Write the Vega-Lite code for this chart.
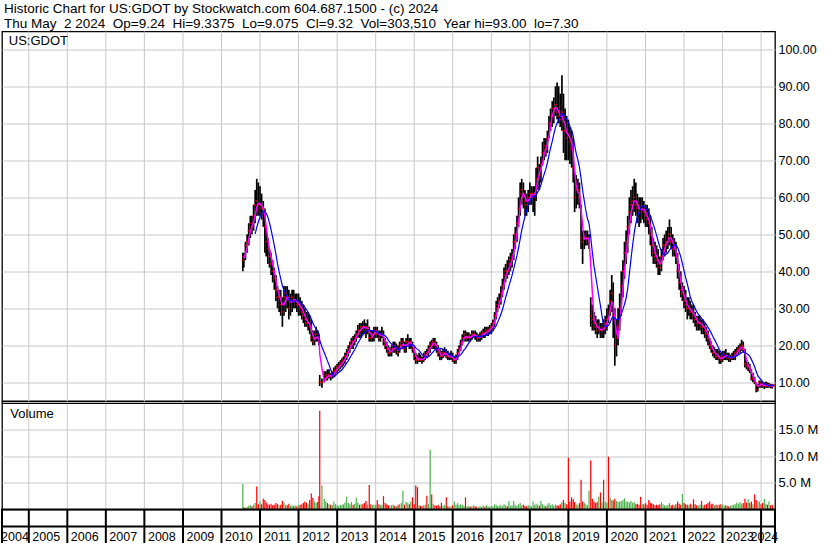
{
"$schema": "https://vega.github.io/schema/vega-lite/v6.json",
"background": "white",
"padding": {"left": 0, "top": 1.5, "right": 0, "bottom": 0},
"title": {"text": "Historic Chart for US:GDOT by Stockwatch.com 604.687.1500 - (c) 2024", "subtitle": "Thu May\u00a0 2 2024\u00a0 Op=9.24\u00a0 Hi=9.3375\u00a0 Lo=9.075\u00a0 Cl=9.32\u00a0 Vol=303,510\u00a0 Year hi=93.00\u00a0 lo=7.30", "anchor": "start", "frame": "group", "font": "Liberation Sans", "fontSize": 13.5, "fontWeight": "normal", "color": "black", "subtitleFont": "Liberation Sans", "subtitleFontSize": 13.5, "subtitleColor": "black", "subtitlePadding": 0.9, "offset": 0, "dx": 2},
"config": {
  "view": {"stroke": "black", "strokeWidth": 1.3},
  "axis": {"gridColor": "#c8c8c8", "gridWidth": 1, "gridOpacity": 1, "labelFont": "Liberation Sans", "labelColor": "black", "domain": false, "ticks": false, "tickSize": 0, "title": null},
  "text": {"font": "Liberation Sans", "fontSize": 13, "color": "black"}
},
"datasets": {
"yt": [{"d":"2005-01-01"},{"d":"2006-01-01"},{"d":"2007-01-01"},{"d":"2008-01-01"},{"d":"2009-01-01"},{"d":"2010-01-01"},{"d":"2011-01-01"},{"d":"2012-01-01"},{"d":"2013-01-01"},{"d":"2014-01-01"},{"d":"2015-01-01"},{"d":"2016-01-01"},{"d":"2017-01-01"},{"d":"2018-01-01"},{"d":"2019-01-01"},{"d":"2020-01-01"},{"d":"2021-01-01"},{"d":"2022-01-01"},{"d":"2023-01-01"},{"d":"2024-01-01"}],
"yl": [{"t":"2004","d":"2004-08-23"},{"t":"2005","d":"2005-06-15"},{"t":"2006","d":"2006-06-15"},{"t":"2007","d":"2007-06-15"},{"t":"2008","d":"2008-06-15"},{"t":"2009","d":"2009-06-15"},{"t":"2010","d":"2010-06-15"},{"t":"2011","d":"2011-06-15"},{"t":"2012","d":"2012-06-15"},{"t":"2013","d":"2013-06-15"},{"t":"2014","d":"2014-06-15"},{"t":"2015","d":"2015-06-15"},{"t":"2016","d":"2016-06-15"},{"t":"2017","d":"2017-06-15"},{"t":"2018","d":"2018-06-15"},{"t":"2019","d":"2019-06-15"},{"t":"2020","d":"2020-06-15"},{"t":"2021","d":"2021-06-15"},{"t":"2022","d":"2022-06-15"},{"t":"2023","d":"2023-06-15"},{"t":"2024","d":"2024-02-01"}],
"p": [
{"d":"2010-07-22","l":40,"h":45,"c":43,"m":null,"b":null,"v":4.8,"u":1},
{"d":"2010-08-01","l":41,"h":45,"c":44,"m":43.5,"b":null,"v":0.4,"u":0},
{"d":"2010-08-16","l":43,"h":48,"c":47,"m":44.7,"b":null,"v":0.3,"u":0},
{"d":"2010-09-01","l":45,"h":50,"c":48,"m":46.3,"b":null,"v":0.5,"u":1},
{"d":"2010-09-16","l":47,"h":53,"c":51,"m":48.7,"b":null,"v":0.7,"u":1},
{"d":"2010-10-01","l":49,"h":55,"c":53,"m":50.7,"b":null,"v":0.8,"u":1},
{"d":"2010-10-16","l":50,"h":55,"c":52,"m":52,"b":null,"v":0.6,"u":0},
{"d":"2010-11-01","l":51,"h":58,"c":55,"m":53.3,"b":null,"v":0.9,"u":1},
{"d":"2010-11-16","l":53,"h":62,"c":58,"m":55,"b":50.1,"v":1.2,"u":1},
{"d":"2010-12-01","l":55,"h":65,"c":59,"m":57.3,"b":51.9,"v":4.3,"u":0},
{"d":"2010-12-16","l":55,"h":64,"c":58,"m":58.3,"b":53.4,"v":1.0,"u":0},
{"d":"2011-01-01","l":55,"h":63,"c":58,"m":58.3,"b":54.7,"v":1.5,"u":1},
{"d":"2011-01-16","l":54,"h":61,"c":57,"m":57.7,"b":55.7,"v":1.0,"u":0},
{"d":"2011-02-01","l":52,"h":59,"c":56,"m":57,"b":56.2,"v":2.0,"u":0},
{"d":"2011-02-16","l":45,"h":57,"c":52,"m":55,"b":56.1,"v":1.8,"u":0},
{"d":"2011-03-01","l":44,"h":52,"c":48,"m":52,"b":55.7,"v":1.3,"u":0},
{"d":"2011-03-16","l":42,"h":49,"c":46,"m":48.7,"b":54.7,"v":1.0,"u":0},
{"d":"2011-04-01","l":41,"h":46,"c":44,"m":46,"b":53.1,"v":0.9,"u":0},
{"d":"2011-04-16","l":39,"h":45,"c":42,"m":44,"b":51.2,"v":1.1,"u":0},
{"d":"2011-05-01","l":37,"h":43,"c":40,"m":42,"b":49.2,"v":0.8,"u":0},
{"d":"2011-05-16","l":35,"h":41,"c":38,"m":40,"b":47,"v":0.9,"u":0},
{"d":"2011-06-01","l":32,"h":39,"c":35,"m":37.7,"b":44.6,"v":1.2,"u":0},
{"d":"2011-06-16","l":30,"h":36,"c":33,"m":35.3,"b":42,"v":1.0,"u":0},
{"d":"2011-07-01","l":29,"h":35,"c":33,"m":33.7,"b":39.9,"v":0.8,"u":1},
{"d":"2011-07-16","l":28,"h":35,"c":31,"m":32.3,"b":38,"v":0.9,"u":0},
{"d":"2011-08-01","l":25,"h":33,"c":29,"m":31,"b":36.1,"v":1.6,"u":0},
{"d":"2011-08-16","l":28,"h":36,"c":33,"m":31,"b":34.9,"v":1.2,"u":1},
{"d":"2011-09-01","l":29,"h":36,"c":34,"m":32,"b":34,"v":0.9,"u":1},
{"d":"2011-09-16","l":30,"h":36,"c":33,"m":33.3,"b":33.2,"v":0.8,"u":0},
{"d":"2011-10-01","l":27,"h":35,"c":30,"m":32.3,"b":32.3,"v":1.1,"u":0},
{"d":"2011-10-16","l":28,"h":34,"c":32,"m":31.7,"b":32,"v":0.7,"u":1},
{"d":"2011-11-01","l":29,"h":35,"c":33,"m":31.7,"b":32,"v":0.8,"u":1},
{"d":"2011-11-16","l":30,"h":35,"c":32,"m":32.3,"b":31.9,"v":0.6,"u":0},
{"d":"2011-12-01","l":30,"h":34,"c":32,"m":32.3,"b":32,"v":0.7,"u":1},
{"d":"2011-12-16","l":29,"h":34,"c":31,"m":31.7,"b":32.2,"v":0.6,"u":0},
{"d":"2012-01-01","l":28,"h":34,"c":31,"m":31.3,"b":32,"v":0.8,"u":1},
{"d":"2012-01-16","l":28,"h":33,"c":30,"m":30.7,"b":31.6,"v":0.9,"u":0},
{"d":"2012-02-01","l":27,"h":32,"c":29,"m":30,"b":31.1,"v":1.0,"u":0},
{"d":"2012-02-16","l":26,"h":31,"c":28,"m":29,"b":30.9,"v":1.2,"u":0},
{"d":"2012-03-01","l":25,"h":30,"c":27,"m":28,"b":30.3,"v":1.5,"u":0},
{"d":"2012-03-16","l":25,"h":29,"c":26,"m":27,"b":29.6,"v":1.3,"u":0},
{"d":"2012-04-01","l":24,"h":29,"c":26,"m":26.3,"b":28.9,"v":1.0,"u":1},
{"d":"2012-04-16","l":23,"h":28,"c":25,"m":25.7,"b":28.1,"v":1.8,"u":0},
{"d":"2012-05-01","l":21,"h":27,"c":22,"m":24.3,"b":27.1,"v":3.0,"u":0},
{"d":"2012-05-16","l":20,"h":24,"c":21,"m":22.7,"b":26,"v":2.2,"u":0},
{"d":"2012-06-01","l":20,"h":24,"c":22,"m":21.7,"b":25.1,"v":1.5,"u":1},
{"d":"2012-06-16","l":21,"h":25,"c":23,"m":22,"b":24.4,"v":1.2,"u":1},
{"d":"2012-07-01","l":21,"h":24,"c":22,"m":22.3,"b":23.8,"v":1.4,"u":0},
{"d":"2012-07-12","l":20,"h":23,"c":21,"m":22,"b":23.1,"v":2.5,"u":0},
{"d":"2012-07-20","l":9,"h":12,"c":10,"m":17.7,"b":21.3,"v":18.5,"u":0},
{"d":"2012-08-10","l":8.5,"h":11,"c":10,"m":13.7,"b":19.6,"v":4.5,"u":1},
{"d":"2012-09-01","l":10,"h":13,"c":11,"m":10.3,"b":18,"v":2.0,"u":1},
{"d":"2012-09-16","l":10.5,"h":13,"c":12,"m":11,"b":16.9,"v":1.5,"u":1},
{"d":"2012-10-01","l":10.5,"h":13.5,"c":11.5,"m":11.5,"b":15.8,"v":1.2,"u":0},
{"d":"2012-10-16","l":11,"h":13.5,"c":12,"m":11.8,"b":14.7,"v":1.0,"u":1},
{"d":"2012-11-01","l":10.5,"h":12.5,"c":11.5,"m":11.7,"b":13.4,"v":0.9,"u":0},
{"d":"2012-11-16","l":11,"h":13,"c":12,"m":11.8,"b":12.3,"v":0.8,"u":1},
{"d":"2012-12-01","l":11.5,"h":14,"c":13,"m":12.2,"b":11.4,"v":1.5,"u":1},
{"d":"2012-12-16","l":12,"h":14.5,"c":13.5,"m":12.8,"b":11.8,"v":1.0,"u":1},
{"d":"2013-01-01","l":12.5,"h":15,"c":14,"m":13.5,"b":12.3,"v":0.8,"u":1},
{"d":"2013-01-16","l":13,"h":15.5,"c":14.5,"m":14,"b":12.7,"v":0.7,"u":1},
{"d":"2013-02-01","l":13.5,"h":16,"c":15,"m":14.5,"b":13,"v":0.9,"u":1},
{"d":"2013-02-16","l":14,"h":16.5,"c":15.5,"m":15,"b":13.4,"v":0.8,"u":1},
{"d":"2013-03-01","l":14.5,"h":17,"c":16,"m":15.5,"b":13.9,"v":1.0,"u":1},
{"d":"2013-03-16","l":15,"h":18,"c":17,"m":16.2,"b":14.5,"v":1.3,"u":1},
{"d":"2013-04-01","l":16,"h":19,"c":18,"m":17,"b":15.2,"v":2.4,"u":1},
{"d":"2013-04-16","l":17,"h":20,"c":19,"m":18,"b":15.8,"v":1.2,"u":1},
{"d":"2013-05-01","l":18,"h":21,"c":20,"m":19,"b":16.6,"v":1.0,"u":1},
{"d":"2013-05-16","l":19,"h":22,"c":21,"m":20,"b":17.3,"v":1.4,"u":1},
{"d":"2013-06-01","l":19,"h":22.5,"c":21,"m":20.7,"b":18.1,"v":0.9,"u":0},
{"d":"2013-06-16","l":20,"h":23,"c":22,"m":21.3,"b":18.8,"v":1.1,"u":1},
{"d":"2013-07-01","l":21,"h":24,"c":23,"m":22,"b":19.7,"v":2.2,"u":1},
{"d":"2013-07-16","l":22,"h":25.5,"c":24,"m":23,"b":20.6,"v":1.3,"u":1},
{"d":"2013-08-01","l":22,"h":26,"c":24,"m":23.7,"b":21.3,"v":0.9,"u":0},
{"d":"2013-08-16","l":22,"h":26,"c":25,"m":24.3,"b":22.1,"v":1.0,"u":1},
{"d":"2013-09-01","l":23,"h":26.5,"c":25,"m":24.7,"b":22.8,"v":1.0,"u":0},
{"d":"2013-09-16","l":23,"h":27,"c":25,"m":25,"b":23.3,"v":1.2,"u":0},
{"d":"2013-10-01","l":22,"h":26,"c":24,"m":24.7,"b":23.7,"v":1.6,"u":0},
{"d":"2013-10-16","l":23,"h":27,"c":25,"m":24.7,"b":24.1,"v":0.9,"u":1},
{"d":"2013-11-01","l":21,"h":25,"c":22,"m":23.7,"b":24.1,"v":4.6,"u":0},
{"d":"2013-11-16","l":21,"h":24,"c":22,"m":23,"b":24,"v":1.0,"u":0},
{"d":"2013-12-01","l":21,"h":24,"c":23,"m":22.3,"b":23.9,"v":0.8,"u":1},
{"d":"2013-12-16","l":21,"h":25,"c":24,"m":23,"b":23.9,"v":0.9,"u":1},
{"d":"2014-01-01","l":22,"h":25,"c":24,"m":23.7,"b":23.8,"v":0.9,"u":1},
{"d":"2014-01-16","l":22,"h":25,"c":23,"m":23.7,"b":23.6,"v":1.8,"u":0},
{"d":"2014-02-01","l":21,"h":24,"c":22,"m":23,"b":23.2,"v":1.0,"u":0},
{"d":"2014-02-16","l":21,"h":24,"c":23,"m":22.7,"b":23.1,"v":0.8,"u":1},
{"d":"2014-03-01","l":22,"h":25,"c":23,"m":22.7,"b":22.9,"v":0.9,"u":1},
{"d":"2014-03-16","l":20,"h":24,"c":21,"m":22.3,"b":22.8,"v":2.5,"u":0},
{"d":"2014-04-01","l":19,"h":22,"c":20,"m":21.3,"b":22.6,"v":1.2,"u":0},
{"d":"2014-04-16","l":18,"h":21,"c":19,"m":20,"b":22.1,"v":1.0,"u":0},
{"d":"2014-05-01","l":17,"h":20,"c":18,"m":19,"b":21.4,"v":0.8,"u":0},
{"d":"2014-05-16","l":17,"h":19.5,"c":18,"m":18.3,"b":20.8,"v":0.7,"u":1},
{"d":"2014-06-01","l":17,"h":20,"c":19,"m":18.3,"b":20.3,"v":0.8,"u":1},
{"d":"2014-06-16","l":18,"h":21,"c":20,"m":19,"b":20.1,"v":0.9,"u":1},
{"d":"2014-07-01","l":18,"h":21,"c":19,"m":19.3,"b":19.7,"v":0.7,"u":0},
{"d":"2014-07-16","l":17.5,"h":20.5,"c":19,"m":19.3,"b":19.2,"v":0.6,"u":1},
{"d":"2014-08-01","l":17,"h":20,"c":18,"m":18.7,"b":18.9,"v":0.9,"u":0},
{"d":"2014-08-16","l":18,"h":21,"c":20,"m":19,"b":18.9,"v":1.0,"u":1},
{"d":"2014-09-01","l":19,"h":22,"c":21,"m":19.7,"b":19.1,"v":1.2,"u":1},
{"d":"2014-09-16","l":19,"h":22,"c":20,"m":20.3,"b":19.3,"v":3.5,"u":1},
{"d":"2014-10-01","l":18,"h":21,"c":19,"m":20,"b":19.4,"v":0.9,"u":0},
{"d":"2014-10-16","l":18,"h":22,"c":21,"m":20,"b":19.7,"v":1.4,"u":1},
{"d":"2014-11-01","l":20,"h":23,"c":21,"m":20.3,"b":19.8,"v":1.2,"u":1},
{"d":"2014-11-16","l":19,"h":22,"c":20,"m":20.7,"b":19.9,"v":1.0,"u":0},
{"d":"2014-12-01","l":19,"h":22,"c":21,"m":20.7,"b":20.1,"v":1.5,"u":1},
{"d":"2014-12-16","l":18,"h":21,"c":19,"m":20,"b":20.2,"v":2.3,"u":0},
{"d":"2015-01-01","l":16,"h":19.5,"c":17,"m":19,"b":19.9,"v":1.0,"u":0},
{"d":"2015-01-16","l":15,"h":18,"c":16,"m":17.3,"b":19.3,"v":4.5,"u":0},
{"d":"2015-02-01","l":15,"h":17.5,"c":16,"m":16.3,"b":18.9,"v":4.2,"u":0},
{"d":"2015-02-16","l":15.5,"h":18,"c":16.5,"m":16.2,"b":18.6,"v":0.8,"u":1},
{"d":"2015-03-01","l":15.5,"h":17.5,"c":16,"m":16.2,"b":18.1,"v":0.7,"u":0},
{"d":"2015-03-16","l":15,"h":17,"c":16,"m":16.2,"b":17.5,"v":0.6,"u":0},
{"d":"2015-04-01","l":15.5,"h":18,"c":17,"m":16.3,"b":17.2,"v":0.8,"u":1},
{"d":"2015-04-16","l":16,"h":18.5,"c":17.5,"m":16.8,"b":16.8,"v":0.9,"u":1},
{"d":"2015-05-01","l":16.5,"h":19,"c":18,"m":17.5,"b":16.7,"v":2.6,"u":0},
{"d":"2015-05-16","l":17,"h":20,"c":19,"m":18.2,"b":16.9,"v":1.0,"u":1},
{"d":"2015-06-01","l":18,"h":21,"c":20,"m":19,"b":17.3,"v":11.2,"u":1},
{"d":"2015-06-16","l":19,"h":21.5,"c":20.5,"m":19.8,"b":17.8,"v":2.8,"u":0},
{"d":"2015-07-01","l":19,"h":22,"c":21,"m":20.5,"b":18.3,"v":1.0,"u":1},
{"d":"2015-07-16","l":19,"h":22,"c":20,"m":20.5,"b":18.8,"v":0.8,"u":0},
{"d":"2015-08-01","l":18,"h":21,"c":19,"m":20,"b":19.1,"v":0.7,"u":0},
{"d":"2015-08-16","l":17,"h":20,"c":18,"m":19,"b":19.2,"v":0.9,"u":0},
{"d":"2015-09-01","l":16,"h":19,"c":17,"m":18,"b":19.2,"v":0.6,"u":0},
{"d":"2015-09-16","l":16,"h":18.5,"c":17,"m":17.3,"b":19.1,"v":1.3,"u":0},
{"d":"2015-10-01","l":16.5,"h":19,"c":18,"m":17.3,"b":18.9,"v":0.7,"u":1},
{"d":"2015-10-16","l":17,"h":19.5,"c":18,"m":17.7,"b":18.7,"v":0.8,"u":1},
{"d":"2015-11-01","l":16.5,"h":19,"c":17,"m":17.7,"b":18.3,"v":2.3,"u":0},
{"d":"2015-11-16","l":16,"h":18.5,"c":17,"m":17.3,"b":17.9,"v":0.6,"u":0},
{"d":"2015-12-01","l":16,"h":18,"c":17,"m":17,"b":17.6,"v":0.5,"u":1},
{"d":"2015-12-16","l":16,"h":18.5,"c":17,"m":17,"b":17.3,"v":0.6,"u":1},
{"d":"2016-01-01","l":15.5,"h":18,"c":16,"m":16.7,"b":17.1,"v":0.8,"u":0},
{"d":"2016-01-16","l":15,"h":17,"c":16,"m":16.3,"b":17,"v":1.5,"u":1},
{"d":"2016-02-01","l":15,"h":17.5,"c":16.5,"m":16.2,"b":16.9,"v":0.9,"u":1},
{"d":"2016-02-16","l":16,"h":19,"c":18,"m":16.8,"b":16.9,"v":1.2,"u":1},
{"d":"2016-03-01","l":17.5,"h":20,"c":19,"m":17.8,"b":17.1,"v":0.8,"u":1},
{"d":"2016-03-16","l":18.5,"h":21.5,"c":20.5,"m":19.2,"b":17.4,"v":1.0,"u":1},
{"d":"2016-04-01","l":20,"h":23,"c":22,"m":20.5,"b":18,"v":0.9,"u":1},
{"d":"2016-04-16","l":21,"h":24,"c":23,"m":21.8,"b":18.7,"v":0.7,"u":1},
{"d":"2016-05-01","l":21,"h":24,"c":22,"m":22.3,"b":19.2,"v":2.3,"u":0},
{"d":"2016-05-16","l":21,"h":23.5,"c":22,"m":22.3,"b":19.9,"v":0.6,"u":1},
{"d":"2016-06-01","l":21,"h":23.5,"c":22.5,"m":22.2,"b":20.6,"v":0.7,"u":1},
{"d":"2016-06-16","l":21,"h":23,"c":22,"m":22.2,"b":21.2,"v":0.5,"u":0},
{"d":"2016-07-01","l":21.5,"h":24,"c":23,"m":22.5,"b":21.8,"v":0.6,"u":1},
{"d":"2016-07-16","l":22,"h":24,"c":23,"m":22.7,"b":22.2,"v":0.8,"u":1},
{"d":"2016-08-01","l":21.5,"h":24,"c":22.5,"m":22.8,"b":22.4,"v":0.6,"u":0},
{"d":"2016-08-16","l":21,"h":23.5,"c":22,"m":22.5,"b":22.4,"v":0.5,"u":0},
{"d":"2016-09-01","l":21,"h":23,"c":22,"m":22.2,"b":22.3,"v":0.4,"u":1},
{"d":"2016-09-16","l":21,"h":23.5,"c":22.5,"m":22.2,"b":22.4,"v":0.6,"u":1},
{"d":"2016-10-01","l":21.5,"h":24,"c":23,"m":22.5,"b":22.5,"v":0.5,"u":1},
{"d":"2016-10-16","l":22,"h":24.5,"c":23.5,"m":23,"b":22.6,"v":0.7,"u":1},
{"d":"2016-11-01","l":22,"h":25,"c":23,"m":23.2,"b":22.7,"v":0.5,"u":0},
{"d":"2016-11-16","l":22.5,"h":25,"c":24,"m":23.5,"b":22.8,"v":0.8,"u":1},
{"d":"2016-12-01","l":22.5,"h":25,"c":24,"m":23.7,"b":22.9,"v":0.6,"u":1},
{"d":"2016-12-16","l":23,"h":25.5,"c":24.5,"m":24.2,"b":23.2,"v":0.5,"u":1},
{"d":"2017-01-01","l":23,"h":26,"c":25,"m":24.5,"b":23.5,"v":0.7,"u":1},
{"d":"2017-01-16","l":24,"h":27,"c":26,"m":25.2,"b":23.9,"v":0.6,"u":1},
{"d":"2017-02-01","l":25,"h":29,"c":28,"m":26.3,"b":24.6,"v":1.0,"u":1},
{"d":"2017-02-16","l":27,"h":32,"c":30,"m":28,"b":25.3,"v":0.8,"u":1},
{"d":"2017-03-01","l":29,"h":33,"c":31,"m":29.7,"b":26.2,"v":0.6,"u":1},
{"d":"2017-03-16","l":30,"h":34,"c":32,"m":31,"b":27.2,"v":0.7,"u":1},
{"d":"2017-04-01","l":31,"h":36,"c":34,"m":32.3,"b":28.3,"v":0.9,"u":1},
{"d":"2017-04-16","l":33,"h":38,"c":36,"m":34,"b":29.6,"v":0.6,"u":1},
{"d":"2017-05-01","l":35,"h":41,"c":39,"m":36.3,"b":31.2,"v":1.0,"u":1},
{"d":"2017-05-16","l":37,"h":42,"c":40,"m":38.3,"b":32.9,"v":0.8,"u":1},
{"d":"2017-06-01","l":38,"h":43,"c":40,"m":39.7,"b":34.4,"v":0.6,"u":0},
{"d":"2017-06-16","l":39,"h":44,"c":42,"m":40.7,"b":36,"v":1.6,"u":1},
{"d":"2017-07-01","l":40,"h":45,"c":43,"m":41.7,"b":37.4,"v":0.7,"u":1},
{"d":"2017-07-16","l":41,"h":46,"c":44,"m":43,"b":38.9,"v":0.8,"u":1},
{"d":"2017-08-01","l":43,"h":50,"c":48,"m":45,"b":40.7,"v":1.6,"u":1},
{"d":"2017-08-16","l":46,"h":52,"c":50,"m":47.3,"b":42.4,"v":0.9,"u":1},
{"d":"2017-09-01","l":48,"h":55,"c":53,"m":50.3,"b":44.3,"v":0.7,"u":1},
{"d":"2017-09-16","l":52,"h":60,"c":57,"m":53.3,"b":46.3,"v":1.0,"u":1},
{"d":"2017-10-01","l":55,"h":64,"c":61,"m":57,"b":48.7,"v":1.2,"u":1},
{"d":"2017-10-16","l":58,"h":65,"c":62,"m":60,"b":51.1,"v":0.8,"u":1},
{"d":"2017-11-01","l":57,"h":64,"c":60,"m":61,"b":53.1,"v":0.9,"u":0},
{"d":"2017-11-16","l":55,"h":62,"c":59,"m":60.3,"b":54.9,"v":0.7,"u":0},
{"d":"2017-12-01","l":55,"h":61,"c":58,"m":59,"b":56.4,"v":0.6,"u":0},
{"d":"2017-12-16","l":56,"h":62,"c":60,"m":59,"b":57.8,"v":0.8,"u":1},
{"d":"2018-01-01","l":58,"h":64,"c":61,"m":59.7,"b":59,"v":0.7,"u":1},
{"d":"2018-01-16","l":58,"h":63,"c":61,"m":60.7,"b":59.9,"v":0.6,"u":1},
{"d":"2018-02-01","l":56,"h":63,"c":60,"m":60.7,"b":60.2,"v":1.5,"u":1},
{"d":"2018-02-16","l":55,"h":63,"c":61,"m":60.7,"b":60.2,"v":0.8,"u":1},
{"d":"2018-03-01","l":59,"h":68,"c":65,"m":62,"b":60.6,"v":1.1,"u":1},
{"d":"2018-03-16","l":62,"h":71,"c":68,"m":64.7,"b":61.4,"v":0.9,"u":1},
{"d":"2018-04-01","l":62,"h":69,"c":66,"m":66.3,"b":62.2,"v":0.7,"u":0},
{"d":"2018-04-16","l":64,"h":71,"c":69,"m":67.7,"b":63.4,"v":1.6,"u":1},
{"d":"2018-05-01","l":69,"h":75,"c":72,"m":69,"b":64.8,"v":1.0,"u":1},
{"d":"2018-05-16","l":70,"h":76,"c":74,"m":71.7,"b":66.2,"v":0.8,"u":1},
{"d":"2018-06-01","l":71,"h":76,"c":73,"m":73,"b":67.6,"v":0.6,"u":0},
{"d":"2018-06-16","l":72,"h":78,"c":76,"m":74.3,"b":69.3,"v":0.9,"u":1},
{"d":"2018-07-01","l":76,"h":82,"c":80,"m":76.3,"b":71.4,"v":1.2,"u":1},
{"d":"2018-07-16","l":78,"h":84,"c":82,"m":79.3,"b":73.3,"v":0.8,"u":1},
{"d":"2018-08-01","l":79,"h":86,"c":84,"m":82,"b":75.1,"v":1.0,"u":1},
{"d":"2018-08-16","l":80,"h":87,"c":84,"m":83.3,"b":77.1,"v":0.7,"u":1},
{"d":"2018-09-01","l":82,"h":90,"c":85,"m":84.3,"b":78.9,"v":0.9,"u":1},
{"d":"2018-09-16","l":81,"h":91,"c":83,"m":84,"b":80.1,"v":0.8,"u":0},
{"d":"2018-10-01","l":80,"h":90,"c":82,"m":83.3,"b":81,"v":0.7,"u":0},
{"d":"2018-10-16","l":79,"h":88,"c":81,"m":82,"b":81.9,"v":1.0,"u":0},
{"d":"2018-11-01","l":78,"h":93,"c":83,"m":82,"b":82.7,"v":1.4,"u":1},
{"d":"2018-11-16","l":72,"h":88,"c":78,"m":80.7,"b":82.4,"v":1.8,"u":0},
{"d":"2018-12-01","l":70,"h":84,"c":78,"m":79.7,"b":82,"v":1.2,"u":1},
{"d":"2018-12-16","l":70,"h":82,"c":76,"m":77.3,"b":81.1,"v":1.0,"u":0},
{"d":"2019-01-01","l":70,"h":81,"c":77,"m":77,"b":80.3,"v":9.7,"u":0},
{"d":"2019-01-16","l":69,"h":79,"c":75,"m":76,"b":79.2,"v":1.5,"u":0},
{"d":"2019-02-01","l":68,"h":78,"c":73,"m":75,"b":78.1,"v":2.3,"u":0},
{"d":"2019-02-16","l":64,"h":76,"c":68,"m":72,"b":76.6,"v":1.9,"u":0},
{"d":"2019-03-01","l":56,"h":67,"c":60,"m":67,"b":74.2,"v":1.4,"u":0},
{"d":"2019-03-16","l":57,"h":66,"c":62,"m":63.3,"b":71.9,"v":1.0,"u":1},
{"d":"2019-04-01","l":58,"h":65,"c":62,"m":61.3,"b":70.1,"v":0.9,"u":1},
{"d":"2019-04-16","l":57,"h":64,"c":60,"m":61.3,"b":68.1,"v":1.2,"u":0},
{"d":"2019-05-01","l":46,"h":58,"c":49,"m":57,"b":65.1,"v":5.6,"u":0},
{"d":"2019-05-16","l":42,"h":51,"c":48,"m":52.3,"b":61.9,"v":1.5,"u":0},
{"d":"2019-06-01","l":46,"h":51,"c":49,"m":48.7,"b":59,"v":1.2,"u":1},
{"d":"2019-06-16","l":47,"h":51,"c":49,"m":48.7,"b":56.3,"v":1.0,"u":1},
{"d":"2019-07-01","l":47,"h":51,"c":49,"m":49,"b":54.2,"v":0.8,"u":1},
{"d":"2019-07-16","l":46,"h":50,"c":48,"m":48.7,"b":52.9,"v":3.5,"u":1},
{"d":"2019-08-01","l":25,"h":33,"c":28,"m":41.7,"b":49.1,"v":9.2,"u":0},
{"d":"2019-08-16","l":24,"h":31,"c":27,"m":34.3,"b":45.2,"v":2.0,"u":0},
{"d":"2019-09-01","l":24,"h":29,"c":26,"m":27,"b":41.4,"v":1.5,"u":0},
{"d":"2019-09-16","l":23,"h":28,"c":25,"m":26,"b":38.8,"v":1.2,"u":0},
{"d":"2019-10-01","l":22,"h":27,"c":24,"m":25,"b":36.1,"v":1.4,"u":0},
{"d":"2019-10-16","l":23,"h":27,"c":25,"m":24.7,"b":33.4,"v":2.4,"u":1},
{"d":"2019-11-01","l":22,"h":26,"c":24,"m":24.3,"b":30.7,"v":3.2,"u":0},
{"d":"2019-11-16","l":22,"h":26,"c":24,"m":24.3,"b":27.9,"v":1.3,"u":1},
{"d":"2019-12-01","l":22,"h":27,"c":25,"m":24.3,"b":25.3,"v":5.6,"u":0},
{"d":"2019-12-16","l":23,"h":28,"c":26,"m":25,"b":25.1,"v":1.5,"u":1},
{"d":"2020-01-01","l":24,"h":30,"c":27,"m":26,"b":25.1,"v":1.2,"u":1},
{"d":"2020-01-16","l":26,"h":31,"c":29,"m":27.3,"b":25.4,"v":9.9,"u":0},
{"d":"2020-02-01","l":28,"h":35,"c":32,"m":29.3,"b":26.2,"v":2.2,"u":1},
{"d":"2020-02-16","l":29,"h":39,"c":34,"m":31.7,"b":27.3,"v":1.8,"u":1},
{"d":"2020-03-01","l":22,"h":37,"c":28,"m":31.3,"b":27.7,"v":1.7,"u":0},
{"d":"2020-03-16","l":14.5,"h":30,"c":20,"m":27.3,"b":27.2,"v":2.0,"u":0},
{"d":"2020-04-01","l":17,"h":27,"c":22,"m":23.3,"b":27,"v":1.6,"u":1},
{"d":"2020-04-16","l":20,"h":30,"c":25,"m":22.3,"b":27,"v":1.4,"u":1},
{"d":"2020-05-01","l":24,"h":34,"c":30,"m":25.7,"b":27.4,"v":1.5,"u":1},
{"d":"2020-05-16","l":28,"h":40,"c":36,"m":30.3,"b":28.4,"v":1.6,"u":1},
{"d":"2020-06-01","l":33,"h":43,"c":40,"m":35.3,"b":29.7,"v":1.8,"u":1},
{"d":"2020-06-16","l":38,"h":48,"c":45,"m":40.3,"b":31.1,"v":2.1,"u":1},
{"d":"2020-07-01","l":42,"h":51,"c":48,"m":44.3,"b":32.7,"v":1.4,"u":1},
{"d":"2020-07-16","l":45,"h":55,"c":52,"m":48.3,"b":35.3,"v":1.5,"u":1},
{"d":"2020-08-01","l":50,"h":60,"c":56,"m":52,"b":39.3,"v":1.3,"u":1},
{"d":"2020-08-16","l":53,"h":62,"c":58,"m":55.3,"b":43.3,"v":1.6,"u":1},
{"d":"2020-09-01","l":55,"h":63,"c":59,"m":57.7,"b":47.1,"v":1.2,"u":1},
{"d":"2020-09-16","l":56,"h":65,"c":60,"m":59,"b":50.4,"v":1.4,"u":1},
{"d":"2020-10-01","l":55,"h":64,"c":58,"m":59,"b":52.9,"v":1.0,"u":0},
{"d":"2020-10-16","l":53,"h":61,"c":57,"m":58.3,"b":54.8,"v":1.1,"u":0},
{"d":"2020-11-01","l":52,"h":60,"c":56,"m":57,"b":56,"v":0.9,"u":0},
{"d":"2020-11-16","l":53,"h":60,"c":57,"m":56.7,"b":57,"v":2.4,"u":0},
{"d":"2020-12-01","l":54,"h":60,"c":57,"m":56.7,"b":57.6,"v":1.0,"u":1},
{"d":"2020-12-16","l":53,"h":59,"c":56,"m":56.7,"b":57.6,"v":1.0,"u":0},
{"d":"2021-01-01","l":52,"h":58,"c":55,"m":56,"b":57.2,"v":1.2,"u":0},
{"d":"2021-01-16","l":52,"h":58,"c":54,"m":55,"b":56.7,"v":0.9,"u":0},
{"d":"2021-02-01","l":50,"h":57,"c":53,"m":54,"b":55.9,"v":1.8,"u":0},
{"d":"2021-02-16","l":47,"h":55,"c":50,"m":52.3,"b":55,"v":1.3,"u":0},
{"d":"2021-03-01","l":44,"h":52,"c":47,"m":50,"b":53.9,"v":1.1,"u":0},
{"d":"2021-03-16","l":42,"h":49,"c":45,"m":47.3,"b":52.7,"v":1.0,"u":0},
{"d":"2021-04-01","l":42,"h":48,"c":44,"m":45.3,"b":51.2,"v":0.8,"u":0},
{"d":"2021-04-16","l":41,"h":47,"c":43,"m":44,"b":49.7,"v":0.9,"u":0},
{"d":"2021-05-01","l":39,"h":46,"c":42,"m":43,"b":48.1,"v":0.8,"u":0},
{"d":"2021-05-16","l":39,"h":44,"c":41,"m":42,"b":46.6,"v":1.0,"u":0},
{"d":"2021-06-01","l":40,"h":46,"c":44,"m":42.3,"b":45.4,"v":1.4,"u":1},
{"d":"2021-06-16","l":43,"h":49,"c":47,"m":44,"b":44.8,"v":1.0,"u":1},
{"d":"2021-07-01","l":44,"h":50,"c":47,"m":46,"b":44.4,"v":0.8,"u":1},
{"d":"2021-07-16","l":45,"h":51,"c":48,"m":47.3,"b":44.6,"v":0.7,"u":1},
{"d":"2021-08-01","l":46,"h":52,"c":49,"m":48,"b":45,"v":0.9,"u":1},
{"d":"2021-08-16","l":47,"h":54,"c":50,"m":49,"b":45.7,"v":1.2,"u":1},
{"d":"2021-09-01","l":46,"h":52,"c":48,"m":49,"b":46.2,"v":0.8,"u":0},
{"d":"2021-09-16","l":44,"h":50,"c":46,"m":48,"b":46.7,"v":0.9,"u":0},
{"d":"2021-10-01","l":44,"h":49,"c":46,"m":46.7,"b":47.2,"v":0.7,"u":1},
{"d":"2021-10-16","l":42,"h":48,"c":44,"m":45.3,"b":47.2,"v":1.0,"u":0},
{"d":"2021-11-01","l":38,"h":45,"c":40,"m":43.3,"b":46.4,"v":1.5,"u":0},
{"d":"2021-11-16","l":35,"h":42,"c":37,"m":40.3,"b":45.3,"v":1.1,"u":0},
{"d":"2021-12-01","l":33,"h":40,"c":35,"m":37.3,"b":43.9,"v":0.9,"u":0},
{"d":"2021-12-16","l":32,"h":37,"c":34,"m":35.3,"b":42.2,"v":2.9,"u":1},
{"d":"2022-01-01","l":30,"h":36,"c":32,"m":33.7,"b":40.2,"v":1.2,"u":0},
{"d":"2022-01-16","l":29,"h":35,"c":31,"m":32.3,"b":38.3,"v":1.0,"u":0},
{"d":"2022-02-01","l":27,"h":33,"c":30,"m":31,"b":36.6,"v":0.9,"u":0},
{"d":"2022-02-16","l":28,"h":33,"c":30,"m":30.3,"b":34.8,"v":0.8,"u":1},
{"d":"2022-03-01","l":27,"h":32,"c":29,"m":29.7,"b":33.1,"v":1.1,"u":0},
{"d":"2022-03-16","l":27,"h":31,"c":29,"m":29.3,"b":31.9,"v":0.9,"u":1},
{"d":"2022-04-01","l":26,"h":31,"c":28,"m":28.7,"b":30.9,"v":1.9,"u":0},
{"d":"2022-04-16","l":25,"h":29,"c":27,"m":28,"b":30,"v":1.0,"u":0},
{"d":"2022-05-01","l":24,"h":28,"c":26,"m":27,"b":29.1,"v":0.8,"u":0},
{"d":"2022-05-16","l":24,"h":28,"c":26,"m":26.3,"b":28.4,"v":0.7,"u":1},
{"d":"2022-06-01","l":24,"h":28,"c":26,"m":26,"b":27.9,"v":0.9,"u":1},
{"d":"2022-06-16","l":23,"h":27,"c":25,"m":25.7,"b":27.3,"v":1.6,"u":0},
{"d":"2022-07-01","l":23,"h":27,"c":25,"m":25.3,"b":26.8,"v":0.8,"u":1},
{"d":"2022-07-16","l":22,"h":26,"c":24,"m":24.7,"b":26.2,"v":0.9,"u":0},
{"d":"2022-08-01","l":21,"h":25,"c":23,"m":24,"b":25.6,"v":1.0,"u":0},
{"d":"2022-08-16","l":20,"h":24,"c":22,"m":23,"b":24.9,"v":1.2,"u":0},
{"d":"2022-09-01","l":19,"h":22,"c":20,"m":21.7,"b":24.1,"v":1.5,"u":0},
{"d":"2022-09-16","l":18,"h":21,"c":19,"m":20.3,"b":23.3,"v":1.0,"u":0},
{"d":"2022-10-01","l":17,"h":20,"c":18,"m":19,"b":22.4,"v":1.1,"u":0},
{"d":"2022-10-16","l":16.5,"h":19.5,"c":18,"m":18.3,"b":21.6,"v":0.8,"u":1},
{"d":"2022-11-01","l":16,"h":19,"c":17,"m":17.7,"b":20.7,"v":0.9,"u":0},
{"d":"2022-11-16","l":16,"h":19,"c":17,"m":17.3,"b":19.8,"v":0.8,"u":1},
{"d":"2022-12-01","l":15,"h":18.5,"c":16.5,"m":16.8,"b":18.9,"v":0.9,"u":0},
{"d":"2022-12-16","l":15,"h":18,"c":16,"m":16.5,"b":18.2,"v":1.0,"u":0},
{"d":"2023-01-01","l":15.5,"h":18.5,"c":17,"m":16.5,"b":17.6,"v":0.9,"u":1},
{"d":"2023-01-16","l":16,"h":18.5,"c":17.5,"m":16.8,"b":17.3,"v":0.7,"u":1},
{"d":"2023-02-01","l":16,"h":19,"c":17,"m":17.2,"b":17.1,"v":0.8,"u":0},
{"d":"2023-02-16","l":16,"h":18,"c":17,"m":17.2,"b":17,"v":0.7,"u":1},
{"d":"2023-03-01","l":15.5,"h":18,"c":16.5,"m":16.8,"b":16.8,"v":0.6,"u":0},
{"d":"2023-03-16","l":15.5,"h":17.5,"c":16.5,"m":16.7,"b":16.8,"v":0.7,"u":1},
{"d":"2023-04-01","l":16,"h":18,"c":17,"m":16.7,"b":16.8,"v":0.8,"u":1},
{"d":"2023-04-16","l":16,"h":18.5,"c":17,"m":16.8,"b":16.8,"v":0.9,"u":1},
{"d":"2023-05-01","l":16,"h":19,"c":18,"m":17.3,"b":17.1,"v":1.0,"u":1},
{"d":"2023-05-16","l":17,"h":19.5,"c":18.5,"m":17.8,"b":17.2,"v":1.3,"u":1},
{"d":"2023-06-01","l":17.5,"h":20,"c":19,"m":18.5,"b":17.4,"v":1.1,"u":1},
{"d":"2023-06-16","l":18,"h":20.5,"c":19.5,"m":19,"b":17.7,"v":1.4,"u":1},
{"d":"2023-07-01","l":18.5,"h":21.5,"c":20,"m":19.5,"b":18,"v":1.0,"u":1},
{"d":"2023-07-16","l":18,"h":21,"c":19,"m":19.5,"b":18.3,"v":1.2,"u":0},
{"d":"2023-08-01","l":14,"h":19,"c":15,"m":18,"b":18.1,"v":2.0,"u":0},
{"d":"2023-08-16","l":13.5,"h":16,"c":14.5,"m":16.2,"b":17.8,"v":1.3,"u":0},
{"d":"2023-09-01","l":13,"h":15.5,"c":14,"m":14.5,"b":17.5,"v":1.9,"u":1},
{"d":"2023-09-16","l":12.5,"h":15,"c":13.5,"m":14,"b":17,"v":1.2,"u":0},
{"d":"2023-10-01","l":10.5,"h":13.5,"c":11,"m":12.8,"b":16.2,"v":1.5,"u":0},
{"d":"2023-10-16","l":10,"h":12.5,"c":11,"m":11.8,"b":15.3,"v":1.0,"u":1},
{"d":"2023-11-01","l":9.5,"h":11.5,"c":10,"m":10.7,"b":14.2,"v":2.8,"u":0},
{"d":"2023-11-16","l":7.3,"h":10,"c":8,"m":9.7,"b":12.9,"v":1.8,"u":0},
{"d":"2023-12-01","l":7.5,"h":9.5,"c":9,"m":9,"b":11.8,"v":1.4,"u":1},
{"d":"2023-12-16","l":8.5,"h":10.5,"c":10,"m":9,"b":11.2,"v":1.5,"u":1},
{"d":"2024-01-01","l":8.5,"h":10.5,"c":9.5,"m":9.5,"b":10.7,"v":1.0,"u":0},
{"d":"2024-01-16","l":8.5,"h":10,"c":9,"m":9.5,"b":10.1,"v":1.2,"u":0},
{"d":"2024-02-01","l":8.2,"h":10,"c":9,"m":9.2,"b":9.6,"v":2.0,"u":1},
{"d":"2024-02-16","l":8.5,"h":10.2,"c":9.5,"m":9.2,"b":9.4,"v":1.1,"u":1},
{"d":"2024-03-01","l":8.5,"h":10,"c":9,"m":9.2,"b":9.2,"v":0.9,"u":0},
{"d":"2024-03-16","l":8.5,"h":9.8,"c":9.2,"m":9.2,"b":9.1,"v":1.5,"u":1},
{"d":"2024-04-01","l":8.4,"h":9.6,"c":9,"m":9.1,"b":9.2,"v":0.8,"u":0},
{"d":"2024-04-16","l":8.3,"h":9.5,"c":8.8,"m":9,"b":9.2,"v":0.9,"u":0},
{"d":"2024-05-02","l":9.075,"h":9.3375,"c":9.32,"m":9,"b":9.1,"v":0.3,"u":1}
]
},
"spacing": 0,
"bounds": "flush",
"vconcat": [
 {
  "width": 773, "height": 369.5,
  "layer": [
   {"data": {"name": "yt"},
    "mark": {"type": "rule", "color": "#c8c8c8", "strokeWidth": 1},
    "encoding": {"x": {"field": "d", "type": "temporal", "scale": {"domain": [{"year":2004,"month":4,"date":22},{"year":2024,"month":5,"date":12}]}, "axis": null}}},
   {"data": {"name": "p"},
    "mark": {"type": "rule", "color": "black", "strokeWidth": 1.7},
    "encoding": {
     "x": {"field": "d", "type": "temporal"},
     "y": {"field": "l", "type": "quantitative", "scale": {"domain": [4.95, 104.81], "nice": false, "zero": false},
           "axis": {"orient": "right", "values": [10,15,20,25,30,35,40,45,50,55,60,65,70,75,80,85,90,95,100], "format": ".2f", "labelFontSize": 12.5, "labelPadding": 3, "labelAlign": "left", "grid": true}},
     "y2": {"field": "h"}
    }},
   {"data": {"name": "p"},
    "mark": {"type": "tick", "color": "#ff0000", "orient": "horizontal", "size": 2.5, "thickness": 1.5},
    "encoding": {"x": {"field": "d", "type": "temporal"}, "y": {"field": "c", "type": "quantitative"}}},
   {"data": {"name": "p"},
    "mark": {"type": "line", "color": "#ff00ff", "strokeWidth": 1.5},
    "encoding": {"x": {"field": "d", "type": "temporal"}, "y": {"field": "m", "type": "quantitative"}}},
   {"data": {"name": "p"},
    "mark": {"type": "line", "color": "#0000ff", "strokeWidth": 1.2},
    "encoding": {"x": {"field": "d", "type": "temporal"}, "y": {"field": "b", "type": "quantitative"}}},
   {"data": {"values": [{}]},
    "mark": {"type": "text", "align": "left", "baseline": "middle", "fontSize": 13},
    "encoding": {"x": {"datum": {"year":2004,"month":6,"date":25}, "type": "temporal"}, "y": {"datum": 102.2, "type": "quantitative"}, "text": {"value": "US:GDOT"}}}
  ]
 },
 {
  "width": 773, "height": 108,
  "layer": [
   {"data": {"name": "yt"},
    "mark": {"type": "rule", "color": "#c8c8c8", "strokeWidth": 1},
    "encoding": {"x": {"field": "d", "type": "temporal", "scale": {"domain": [{"year":2004,"month":4,"date":22},{"year":2024,"month":5,"date":12}]}, "axis": null}}},
   {"data": {"name": "p"},
    "mark": {"type": "rule", "strokeWidth": 1.2},
    "encoding": {
     "x": {"field": "d", "type": "temporal"},
     "y": {"field": "v", "type": "quantitative", "scale": {"domain": [0, 20.25], "nice": false},
           "axis": {"orient": "right", "values": [5, 10, 15], "labelExpr": "format(datum.value, '.1f') + ' M'", "labelFontSize": 13, "labelPadding": 3, "labelAlign": "left", "grid": true}},
     "y2": {"datum": 0},
     "color": {"condition": {"test": "datum.u == 1", "value": "#4cb04c"}, "value": "#ff0000"}
    }},
   {"data": {"values": [{}]},
    "mark": {"type": "rule", "color": "black", "strokeWidth": 1},
    "encoding": {"y": {"datum": 19.875, "type": "quantitative"}}},
   {"data": {"values": [{}]},
    "mark": {"type": "text", "align": "left", "baseline": "middle", "fontSize": 13},
    "encoding": {"x": {"datum": {"year":2004,"month":7,"date":10}, "type": "temporal"}, "y": {"datum": 18, "type": "quantitative"}, "text": {"value": "Volume"}}}
  ]
 },
 {
  "width": 773, "height": 36,
  "view": {"stroke": "black", "strokeWidth": 2},
  "layer": [
   {"data": {"name": "yt"},
    "mark": {"type": "rule", "color": "black", "strokeWidth": 2},
    "encoding": {"x": {"field": "d", "type": "temporal", "scale": {"domain": [{"year":2004,"month":4,"date":22},{"year":2024,"month":5,"date":12}]}, "axis": null}}},
   {"data": {"values": [{}]},
    "mark": {"type": "rule", "color": "black", "strokeWidth": 2},
    "encoding": {"y": {"datum": 0.528, "type": "quantitative", "scale": {"domain": [0, 1]}, "axis": null}}},
   {"data": {"name": "yl"},
    "mark": {"type": "text", "align": "center", "baseline": "middle", "fontSize": 12.5},
    "encoding": {"x": {"field": "d", "type": "temporal"}, "y": {"datum": 0.25, "type": "quantitative"}, "text": {"field": "t"}}}
  ]
 }
]
}
